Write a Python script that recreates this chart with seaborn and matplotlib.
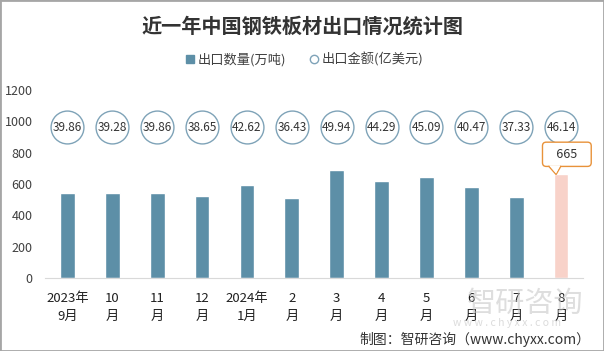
import matplotlib.pyplot as plt
import seaborn as sns
import numpy as np
import pandas as pd
from matplotlib.lines import Line2D
from matplotlib.patches import Rectangle, Polygon

sns.set_style("white")
plt.rcParams['font.family'] = ['Noto Sans CJK SC', 'DejaVu Sans']

# data
months = ['2023年\n9月', '10\n月', '11\n月', '12\n月', '2024年\n1月', '2\n月',
          '3\n月', '4\n月', '5\n月', '6\n月', '7\n月', '8\n月']
qty = [541, 541, 541, 524, 594, 513, 686, 620, 645, 582, 518, 665]
value = [39.86, 39.28, 39.86, 38.65, 42.62, 36.43, 49.94, 44.29, 45.09, 40.47, 37.33, 46.14]
yticks = [0, 200, 400, 600, 800, 1000, 1200]
circle_row = 960  # the value circles sit on one row above the bars

bar_col = '#5D8FA7'
last_col = '#F8D2C9'
df = pd.DataFrame({'month': months, 'qty': qty, 'value': value})
palette = [bar_col] * (len(months) - 1) + [last_col]

fig = plt.figure(figsize=(6.04, 3.51), dpi=100)
ax = fig.add_axes([0.0745, 0.208, 0.8915, 0.536])

sns.barplot(data=df, x='month', y='qty', hue='month', palette=palette,
            width=0.33, saturation=1, legend=False, ax=ax)

xs = np.arange(len(months))
ax.scatter(xs, [circle_row] * len(xs), s=560, facecolor='white',
           edgecolor='#7FA3B8', linewidth=1.0, zorder=3)
for x, v in zip(xs, value):
    ax.text(x, circle_row, f'{v:.2f}', ha='center', va='center',
            fontsize=8.5, color='#333333', zorder=4)

# callout on the last bar: box + little pointer down to the bar top
last_x, last_y = xs[-1], qty[-1]
ax.text(last_x + 0.13, last_y + 124, f'   {last_y}   ', ha='center', va='center',
        fontsize=9, color='#333333', zorder=5,
        bbox=dict(boxstyle='round,pad=0.45,rounding_size=0.3', fc='white',
                  ec='#E8923A', lw=1))
ax.add_patch(Polygon([(last_x - 0.28, last_y + 50), (last_x - 0.11, last_y - 5),
                      (last_x + 0.0, last_y + 50)], closed=False, fc='white',
                     ec='#E8923A', lw=1, zorder=6))
ax.add_patch(Polygon([(last_x - 0.26, last_y + 53), (last_x - 0.11, last_y + 2),
                      (last_x - 0.02, last_y + 53)], closed=True, fc='white',
                     ec='none', zorder=7))

ax.set_xlim(-0.5, len(months) - 0.5)
ax.set_ylim(0, 1200)
ax.set_yticks(yticks)
ax.set_yticklabels([str(t) for t in yticks], fontsize=9, color='#404040')
ax.set_xticks(xs)
ax.set_xticklabels(months, fontsize=9.5, color='#202020', linespacing=1.5)
ax.tick_params(axis='x', length=0, pad=10)
ax.tick_params(axis='y', length=0, pad=9)
ax.set_xlabel('')
ax.set_ylabel('')
for s in ['top', 'right', 'left']:
    ax.spines[s].set_visible(False)
ax.spines['bottom'].set_color('#D9D9D9')

fig.text(0.5, 0.925, '近一年中国钢铁板材出口情况统计图', ha='center', va='center',
         fontsize=14.5, fontweight='bold', color='#333333')

handles = [Line2D([], [], marker='s', ls='', color=bar_col, markersize=6),
           Line2D([], [], marker='o', ls='', mfc='white', mec='#7FA3B8', markersize=6)]
fig.legend(handles, ['出口数量(万吨)', '出口金额(亿美元)'], loc='center',
           bbox_to_anchor=(0.502, 0.83), ncol=2, frameon=False, fontsize=9.5,
           handletextpad=0.1, handlelength=1.0, columnspacing=1.6, labelcolor='#404040')

# watermark and source
fig.text(0.87, 0.135, '智研咨询', ha='center', va='center', fontsize=21,
         color='#C4C4C4', alpha=0.55, zorder=0)
fig.text(0.84, 0.08, 'w w w . c h y x x . c o m', ha='center', va='center', fontsize=7.5,
         color='#C4C4C4', alpha=0.6)
fig.text(0.978, 0.033, '制图：智研咨询（www.chyxx.com）', ha='right', va='center',
         fontsize=10, color='#333333')

fig.patches.append(Rectangle((0, 0), 1, 1, transform=fig.transFigure, fill=False,
                             ec='#A6A6A6', lw=2))

fig.savefig('out.png', dpi=100)
